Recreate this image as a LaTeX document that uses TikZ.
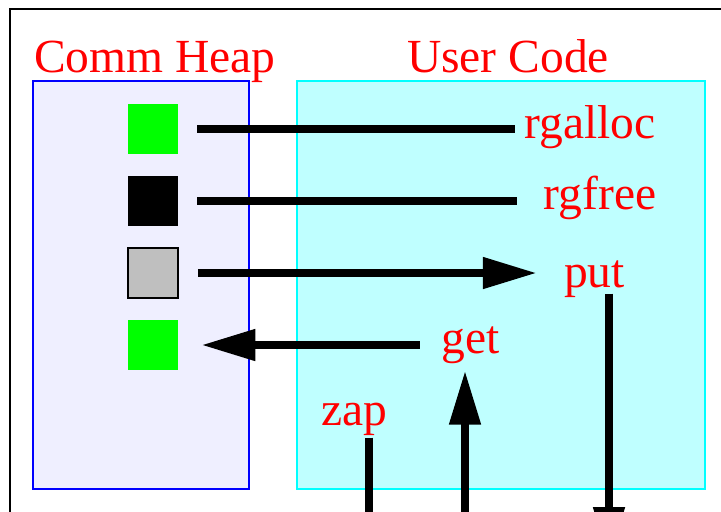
\documentclass[tikz,border=0pt]{standalone}
\usepackage{fontspec}
\setmainfont{Liberation Serif}
\usetikzlibrary{arrows.meta}
\definecolor{heapbg}{RGB}{239,239,255}
\definecolor{userbg}{RGB}{191,255,255}
\definecolor{userline}{RGB}{0,255,255}
\definecolor{slotgray}{RGB}{191,191,191}

\begin{document}
\begin{tikzpicture}[x=0.5pt,y=-0.5pt]
	\tikzstyle{lbl}=[red,font=\fontsize{23.75}{28}\selectfont,inner sep=0pt,anchor=base];
	\tikzstyle{slot}=[minimum size=25pt,inner sep=0pt];
	\tikzstyle{wire}=[line width=4pt];
	\tikzstyle{tip}=[-{Triangle[length=27pt,width=15pt]}];
	\clip (0,0) rectangle (721,511);
	%% frame
	\draw[line width=1pt] (10,9) rectangle (760,560);
	%% areas
	\draw[blue,fill=heapbg,line width=1pt] (33,81) rectangle (249,489);
	\draw[userline,fill=userbg,line width=1pt] (297,81) rectangle (705,489);
	\node[lbl] (heap) at (155,72) {Comm Heap};
	\node[lbl] (user) at (508,72) {User Code};
	%% heap slots
	\node[slot,fill=green] (s1) at (153,129) {};
	\node[slot,fill=black] (s2) at (153,201) {};
	\node[slot,fill=slotgray,draw=black,line width=0.75pt] (s3) at (153,273) {};
	\node[slot,fill=green] (s4) at (153,345) {};
	%% calls
	\node[lbl] (rgalloc) at (590,138)   {rgalloc};
	\node[lbl] (rgfree)  at (600,209)   {rgfree};
	\node[lbl] (put)     at (594.5,287) {put};
	\node[lbl] (get)     at (471,353)   {get};
	\node[lbl] (zap)     at (354.5,425) {zap};
	\coordinate (zapfoot) at (369,560);
	\coordinate (getfoot) at (465,560);
	\coordinate (putfoot) at (609,561);
	%% connections
	\draw[wire,shorten <=9.5pt,shorten >=4.75pt] (s1.east) -- (s1.east -| rgalloc.west);
	\draw[wire,shorten <=9.5pt,shorten >=13pt]   (s2.east) -- (s2.east -| rgfree.west);
	\draw[wire,tip,shorten <=9.5pt,shorten >=13.5pt] (s3.east) -- (s3.east -| put.west);
	\draw[wire,tip,shorten <=11pt,shorten >=11.5pt]  (s4.east -| get.west) -- (s4.east);
	\draw[wire,shorten <=1pt] (zap.south -| zapfoot) -- (zapfoot);
	\draw[wire,tip,shorten >=3.5pt] (getfoot) -- (getfoot |- get.south);
	\draw[wire,tip,shorten <=-2pt] (put.south -| putfoot) -- (putfoot);
\end{tikzpicture}
\end{document}
